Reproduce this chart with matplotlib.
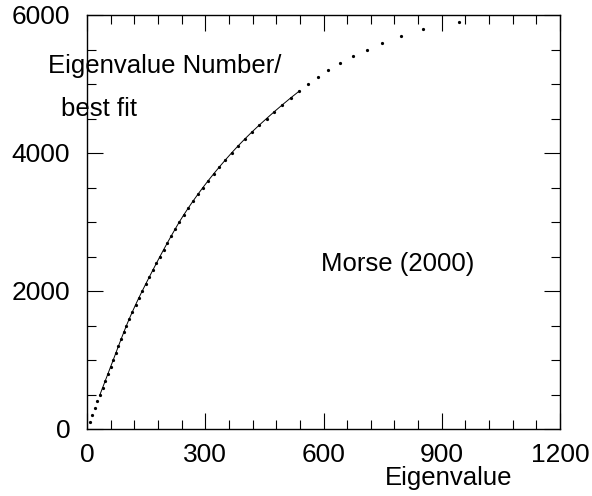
import numpy as np
import matplotlib
matplotlib.use('Agg')
import matplotlib.pyplot as plt
from matplotlib.ticker import MultipleLocator

plt.rcParams['font.family'] = ['Liberation Sans', 'DejaVu Sans']

# eigenvalue number (every 100) and eigenvalue
n_vals = [100, 200, 300, 400, 500, 600, 700, 800, 900, 1000,
          1100, 1200, 1300, 1400, 1500, 1600, 1700, 1800, 1900, 2000,
          2100, 2200, 2300, 2400, 2500, 2600, 2700, 2800, 2900, 3000,
          3100, 3200, 3300, 3400, 3500, 3600, 3700, 3800, 3900, 4000,
          4100, 4200, 4300, 4400, 4500, 4600, 4700, 4800, 4900, 5000,
          5100, 5200, 5300, 5400, 5500, 5600, 5700, 5800, 5900]
eig_vals = [7.0, 13.4, 20.1, 26.4, 33.0, 39.7, 46.4, 53.1, 59.8, 66.5,
            73.1, 79.7, 86.4, 93.2, 100.1, 107.5, 115.2, 123.2, 131.5, 140.1,
            148.9, 157.8, 166.8, 175.9, 185.1, 194.5, 204.1, 213.9, 223.9, 234.1,
            245.1, 256.6, 268.6, 281.1, 294.1, 307.6, 321.6, 336.1, 351.1, 366.6,
            382.8, 399.8, 417.6, 436.2, 455.6, 475.4, 495.9, 517.1, 539.1, 561.4,
            586.0, 612.2, 641.9, 674.8, 709.6, 749.2, 795.8, 853.2, 943.8]

# the fitted part is joined by a line (n = 500 .. 4900)
fit_lo, fit_hi = 4, 49

W, H = 592, 496
fig = plt.figure(figsize=(W / 100, H / 100), dpi=100, facecolor='white')
ax = fig.add_axes([87 / W, 1 - 429 / H, (560 - 87) / W, (429 - 15) / H])

ax.plot(eig_vals[fit_lo:fit_hi], n_vals[fit_lo:fit_hi], color='black', linewidth=0.7)
ax.plot(eig_vals, n_vals, linestyle='none', marker='o', markersize=1.3,
        color='black')

ax.set_xlim(0, 1200)
ax.set_ylim(0, 6000)
ax.xaxis.set_major_locator(MultipleLocator(300))
ax.xaxis.set_minor_locator(MultipleLocator(60))
ax.yaxis.set_major_locator(MultipleLocator(2000))
ax.yaxis.set_minor_locator(MultipleLocator(500))

ax.tick_params(which='both', direction='in', top=True, right=True,
               width=0.8, color='black', labelsize=19)
ax.tick_params(which='major', length=11.2)
ax.tick_params(which='minor', length=6.8)
ax.tick_params(axis='x', pad=10)
ax.tick_params(axis='y', pad=12)
for s in ax.spines.values():
    s.set_linewidth(1.0)

fs = 18.5
fig.text(48 / W, 1 - 73 / H, "Eigenvalue Number/", fontsize=fs, va='baseline')
fig.text(61.5 / W, 1 - 116 / H, "best fit", fontsize=fs, va='baseline')
fig.text(321 / W, 1 - 271 / H, "Morse (2000)", fontsize=fs, va='baseline')
fig.text(449 / W, 1 - 485 / H, "Eigenvalue", fontsize=fs, va='baseline', ha='center')

fig.savefig('out.png', dpi=100, facecolor='white')
